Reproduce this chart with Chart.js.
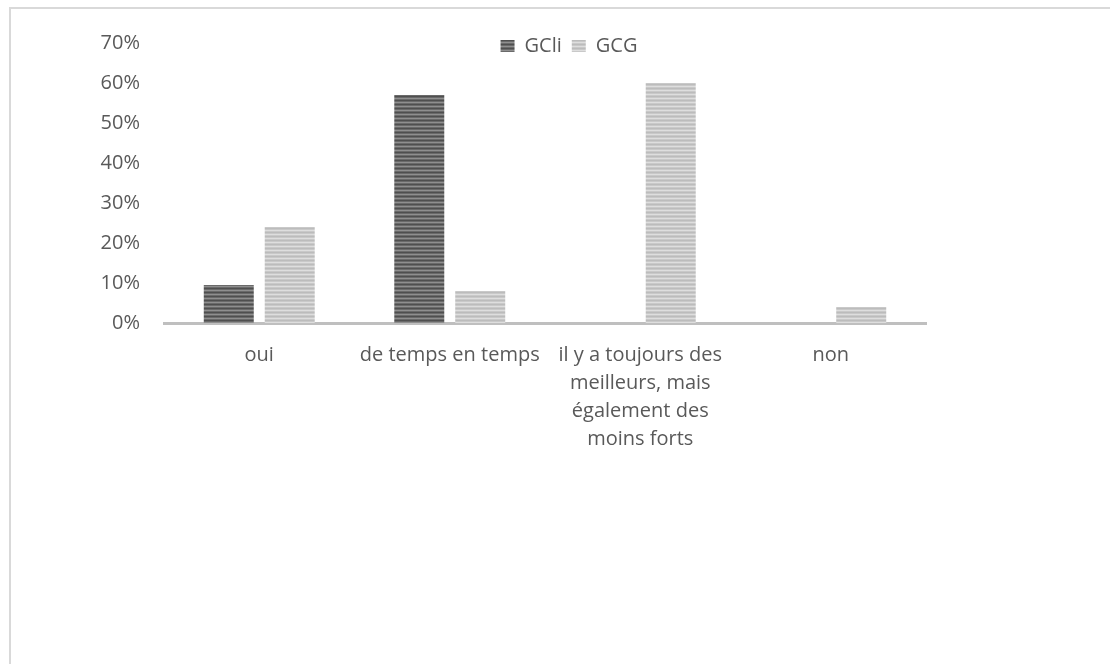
<!DOCTYPE html>
<html><head><meta charset="utf-8">
<script src="https://cdn.jsdelivr.net/npm/chart.js@4.4.1/dist/chart.umd.min.js"></script>
<style>
html,body{margin:0;padding:0;background:#fff;overflow:hidden;}
#wrap{position:relative;width:1110px;height:664px;overflow:hidden;}
#frame{position:absolute;left:9px;top:7px;width:1200px;height:800px;border-top:2px solid #d9d9d9;border-left:2px solid #d9d9d9;pointer-events:none;}
</style></head><body>
<div id="wrap"><canvas id="c" width="1110" height="664"></canvas><div id="frame"></div></div>
<script>
// ---- data ----
const categories = ['oui', 'de temps en temps', ['il y a toujours des', 'meilleurs, mais', 'également des', 'moins forts'], 'non'];
const seriesNames = ['GCli', 'GCG'];
const gcliValues = [9.5, 57, 0, 0];
const gcgValues = [24, 8, 60, 4];
const yTickLabels = ['0%', '10%', '20%', '30%', '40%', '50%', '60%', '70%'];

// ---- styling ----
function stripePattern(rows) {
  const cv = document.createElement('canvas');
  cv.width = 4; cv.height = rows.length;
  const cx = cv.getContext('2d');
  rows.forEach((col, i) => { cx.fillStyle = col; cx.fillRect(0, i, 4, 1); });
  return cx.createPattern(cv, 'repeat');
}
const ctx = document.getElementById('c').getContext('2d');
const gcliFill = stripePattern(['#4f4f4f', '#6a6a6a', '#8f8f8f', '#6a6a6a']);
const gcgFill = stripePattern(['#bcbcbc', '#c9c9c9', '#dedede', '#c9c9c9']);
const txt = '#595959';
const font = { family: "'Open Sans', sans-serif", size: 20, lineHeight: 1.4 };

const legendShift = {
  id: 'legendShift',
  afterLayout(chart) {
    const lg = chart.legend;
    if (lg) {
      lg.left = 212; lg.right = 926; lg.width = 714;
      lg.top += 23; lg.bottom += 23;
    }
  }
};

new Chart(ctx, {
  type: 'bar',
  data: {
    labels: categories,
    datasets: [
      { label: seriesNames[0], data: gcliValues, backgroundColor: gcliFill, borderWidth: 0 },
      { label: seriesNames[1], data: gcgValues, backgroundColor: gcgFill, borderWidth: 0 }
    ]
  },
  options: {
    responsive: false,
    animation: false,
    categoryPercentage: 0.64,
    barPercentage: 0.82,
    layout: { padding: { left: 64, right: 184, top: 3, bottom: 0 } },
    plugins: {
      legend: {
        position: 'top',
        labels: { font: font, color: txt, boxWidth: 14, boxHeight: 12, padding: 10 }
      },
      tooltip: { enabled: false }
    },
    scales: {
      x: {
        grid: { display: false, drawTicks: false },
        border: { display: true, color: '#bfbfbf', width: 3 },
        ticks: { font: font, color: txt, padding: 18, maxRotation: 0, minRotation: 0, autoSkip: false },
        afterFit: s => { s.height = 341; }
      },
      y: {
        min: 0, max: 70,
        grid: { display: false, drawTicks: false },
        border: { display: false },
        ticks: { stepSize: 10, font: font, color: txt, padding: 24,
          callback: (v) => yTickLabels[Math.round(v / 10)] },
        afterFit: s => { s.width = 100; }
      }
    }
  },
  plugins: [legendShift]
});
</script>
</body></html>
